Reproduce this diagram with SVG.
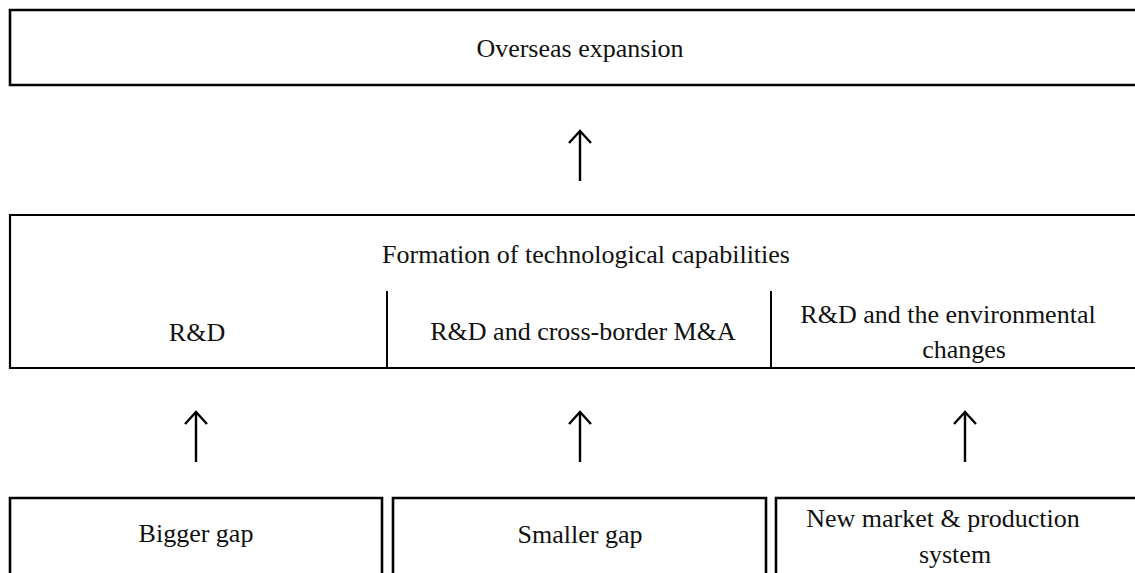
<svg xmlns="http://www.w3.org/2000/svg" width="1135" height="573" viewBox="0 0 1135 573">
<style>
  .t{font-family:"Liberation Serif","Times New Roman",serif;font-size:26px;fill:#111;text-anchor:middle}
  .b{fill:none;stroke:#000;stroke-width:2.6}
  .m{fill:none;stroke:#000;stroke-width:2.2}
  .d{stroke:#000;stroke-width:2}
  .a{stroke:#000;stroke-width:2.4;fill:none}
</style>
<rect width="1135" height="573" fill="#fff"/>
<g id="overseas">
  <path class="b" d="M1136 10 H10 V85 H1136"/>
  <text class="t" x="580" y="57">Overseas expansion</text>
</g>
<g id="formation">
  <path class="m" d="M1136 215 H10 V368 H1136"/>
  <text class="t" x="586" y="263">Formation of technological capabilities</text>
  <line class="d" x1="387" y1="291" x2="387" y2="368"/>
  <line class="d" x1="771" y1="291" x2="771" y2="368"/>
  <text class="t" x="197" y="341">R&amp;D</text>
  <text class="t" x="583" y="340">R&amp;D and cross-border M&amp;A</text>
  <text class="t" x="948" y="323">R&amp;D and the environmental</text>
  <text class="t" x="964" y="358">changes</text>
</g>
<g id="bigger">
  <path class="b" d="M10 574 V498 H382 V574"/>
  <text class="t" x="196" y="542">Bigger gap</text>
</g>
<g id="smaller">
  <path class="b" d="M393 574 V498 H766 V574"/>
  <text class="t" x="580" y="543">Smaller gap</text>
</g>
<g id="newmarket">
  <path class="b" d="M776 574 V498 H1136"/>
  <text class="t" x="943" y="527">New market &amp; production</text>
  <text class="t" x="955" y="563">system</text>
</g>
<g id="connectors">
  <path class="a" d="M580 181 V132 M569 143 L580 131 L591 143"/>
  <path class="a" d="M196 462 V413 M185 424 L196 412 L207 424"/>
  <path class="a" d="M580 462 V413 M569 424 L580 412 L591 424"/>
  <path class="a" d="M965 462 V413 M954 424 L965 412 L976 424"/>
</g>
</svg>
